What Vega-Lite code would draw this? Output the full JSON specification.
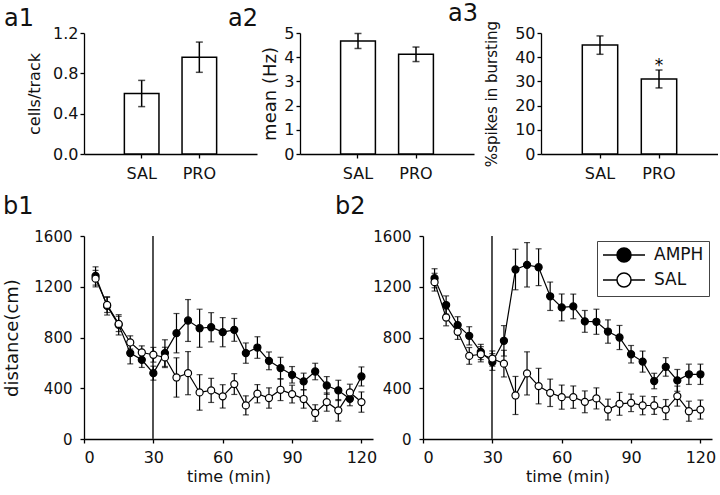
{
  "$schema": "https://vega.github.io/schema/vega-lite/v6.json",
  "padding": {"left": 3, "top": 2, "right": 0, "bottom": 0},
  "spacing": 14,
  "config": {
    "font": "DejaVu Sans",
    "view": {"stroke": null},
    "axis": {"domainColor": "black", "domainWidth": 1.3, "tickColor": "black", "tickWidth": 1.3, "tickSize": 4, "labelFontSize": 15, "labelColor": "#111", "titleFontSize": 15, "titleFontWeight": "normal", "titleColor": "#111", "grid": false, "labelOverlap": false},
    "title": {"fontSize": 24, "fontWeight": "normal", "color": "#111", "anchor": "start", "frame": "group", "baseline": "alphabetic"}
  },
  "datasets": {
    "a1": [{"group": "SAL", "mean": 0.60, "sem": 0.13}, {"group": "PRO", "mean": 0.96, "sem": 0.15}],
    "a2": [{"group": "SAL", "mean": 4.67, "sem": 0.31}, {"group": "PRO", "mean": 4.12, "sem": 0.30}],
    "a3": [{"group": "SAL", "mean": 45.0, "sem": 3.8}, {"group": "PRO", "mean": 31.0, "sem": 3.7, "sig": "*"}],
    "b1": [
      {"treat": "AMPH", "time": 5, "dist": 1285, "sem": 72}, {"treat": "AMPH", "time": 10, "dist": 1049, "sem": 72}, {"treat": "AMPH", "time": 15, "dist": 900, "sem": 80}, {"treat": "AMPH", "time": 20, "dist": 677, "sem": 85}, {"treat": "AMPH", "time": 25, "dist": 624, "sem": 60}, {"treat": "AMPH", "time": 30, "dist": 519, "sem": 55}, {"treat": "AMPH", "time": 35, "dist": 677, "sem": 105}, {"treat": "AMPH", "time": 40, "dist": 834, "sem": 155}, {"treat": "AMPH", "time": 45, "dist": 934, "sem": 165}, {"treat": "AMPH", "time": 50, "dist": 873, "sem": 150}, {"treat": "AMPH", "time": 55, "dist": 881, "sem": 115}, {"treat": "AMPH", "time": 60, "dist": 842, "sem": 115}, {"treat": "AMPH", "time": 65, "dist": 860, "sem": 90}, {"treat": "AMPH", "time": 70, "dist": 677, "sem": 80}, {"treat": "AMPH", "time": 75, "dist": 721, "sem": 85}, {"treat": "AMPH", "time": 80, "dist": 616, "sem": 70}, {"treat": "AMPH", "time": 85, "dist": 559, "sem": 85}, {"treat": "AMPH", "time": 90, "dist": 506, "sem": 65}, {"treat": "AMPH", "time": 95, "dist": 454, "sem": 65}, {"treat": "AMPH", "time": 100, "dist": 532, "sem": 65}, {"treat": "AMPH", "time": 105, "dist": 422, "sem": 70}, {"treat": "AMPH", "time": 110, "dist": 383, "sem": 80}, {"treat": "AMPH", "time": 115, "dist": 317, "sem": 55}, {"treat": "AMPH", "time": 120, "dist": 493, "sem": 75},
      {"treat": "SAL", "time": 5, "dist": 1264, "sem": 65}, {"treat": "SAL", "time": 10, "dist": 1057, "sem": 60}, {"treat": "SAL", "time": 15, "dist": 907, "sem": 60}, {"treat": "SAL", "time": 20, "dist": 761, "sem": 52}, {"treat": "SAL", "time": 25, "dist": 682, "sem": 52}, {"treat": "SAL", "time": 30, "dist": 664, "sem": 58}, {"treat": "SAL", "time": 35, "dist": 643, "sem": 80}, {"treat": "SAL", "time": 40, "dist": 485, "sem": 155}, {"treat": "SAL", "time": 45, "dist": 519, "sem": 170}, {"treat": "SAL", "time": 50, "dist": 367, "sem": 140}, {"treat": "SAL", "time": 55, "dist": 383, "sem": 95}, {"treat": "SAL", "time": 60, "dist": 336, "sem": 92}, {"treat": "SAL", "time": 65, "dist": 433, "sem": 82}, {"treat": "SAL", "time": 70, "dist": 265, "sem": 75}, {"treat": "SAL", "time": 75, "dist": 357, "sem": 72}, {"treat": "SAL", "time": 80, "dist": 323, "sem": 80}, {"treat": "SAL", "time": 85, "dist": 388, "sem": 85}, {"treat": "SAL", "time": 90, "dist": 354, "sem": 70}, {"treat": "SAL", "time": 95, "dist": 315, "sem": 72}, {"treat": "SAL", "time": 100, "dist": 205, "sem": 65}, {"treat": "SAL", "time": 105, "dist": 291, "sem": 72}, {"treat": "SAL", "time": 110, "dist": 226, "sem": 85}, {"treat": "SAL", "time": 115, "dist": 367, "sem": 65}, {"treat": "SAL", "time": 120, "dist": 291, "sem": 80}
    ],
    "b2": [
      {"treat": "AMPH", "time": 5, "dist": 1267, "sem": 75}, {"treat": "AMPH", "time": 10, "dist": 1056, "sem": 72}, {"treat": "AMPH", "time": 15, "dist": 898, "sem": 66}, {"treat": "AMPH", "time": 20, "dist": 813, "sem": 72}, {"treat": "AMPH", "time": 25, "dist": 686, "sem": 60}, {"treat": "AMPH", "time": 30, "dist": 607, "sem": 66}, {"treat": "AMPH", "time": 35, "dist": 774, "sem": 120}, {"treat": "AMPH", "time": 40, "dist": 1336, "sem": 160}, {"treat": "AMPH", "time": 45, "dist": 1373, "sem": 175}, {"treat": "AMPH", "time": 50, "dist": 1354, "sem": 145}, {"treat": "AMPH", "time": 55, "dist": 1125, "sem": 112}, {"treat": "AMPH", "time": 60, "dist": 1037, "sem": 106}, {"treat": "AMPH", "time": 65, "dist": 1045, "sem": 97}, {"treat": "AMPH", "time": 70, "dist": 927, "sem": 86}, {"treat": "AMPH", "time": 75, "dist": 924, "sem": 99}, {"treat": "AMPH", "time": 80, "dist": 847, "sem": 92}, {"treat": "AMPH", "time": 85, "dist": 800, "sem": 95}, {"treat": "AMPH", "time": 90, "dist": 668, "sem": 69}, {"treat": "AMPH", "time": 95, "dist": 610, "sem": 83}, {"treat": "AMPH", "time": 100, "dist": 457, "sem": 61}, {"treat": "AMPH", "time": 105, "dist": 568, "sem": 73}, {"treat": "AMPH", "time": 110, "dist": 462, "sem": 86}, {"treat": "AMPH", "time": 115, "dist": 510, "sem": 80}, {"treat": "AMPH", "time": 120, "dist": 510, "sem": 80},
      {"treat": "SAL", "time": 5, "dist": 1236, "sem": 70}, {"treat": "SAL", "time": 10, "dist": 958, "sem": 66}, {"treat": "SAL", "time": 15, "dist": 845, "sem": 60}, {"treat": "SAL", "time": 20, "dist": 655, "sem": 66}, {"treat": "SAL", "time": 25, "dist": 668, "sem": 60}, {"treat": "SAL", "time": 30, "dist": 634, "sem": 60}, {"treat": "SAL", "time": 35, "dist": 594, "sem": 105}, {"treat": "SAL", "time": 40, "dist": 343, "sem": 150}, {"treat": "SAL", "time": 45, "dist": 517, "sem": 170}, {"treat": "SAL", "time": 50, "dist": 417, "sem": 140}, {"treat": "SAL", "time": 55, "dist": 364, "sem": 108}, {"treat": "SAL", "time": 60, "dist": 330, "sem": 95}, {"treat": "SAL", "time": 65, "dist": 330, "sem": 88}, {"treat": "SAL", "time": 70, "dist": 293, "sem": 86}, {"treat": "SAL", "time": 75, "dist": 320, "sem": 83}, {"treat": "SAL", "time": 80, "dist": 232, "sem": 82}, {"treat": "SAL", "time": 85, "dist": 277, "sem": 90}, {"treat": "SAL", "time": 90, "dist": 285, "sem": 69}, {"treat": "SAL", "time": 95, "dist": 264, "sem": 73}, {"treat": "SAL", "time": 100, "dist": 264, "sem": 70}, {"treat": "SAL", "time": 105, "dist": 232, "sem": 79}, {"treat": "SAL", "time": 110, "dist": 338, "sem": 79}, {"treat": "SAL", "time": 115, "dist": 219, "sem": 79}, {"treat": "SAL", "time": 120, "dist": 232, "sem": 75}
    ]
  },
  "vconcat": [
    {
      "bounds": "flush",
      "spacing": 10,
      "hconcat": [
        {
          "width": 173, "height": 121,
          "title": {"text": "a1", "dx": -80, "dy": 6, "offset": 0},
          "data": {"name": "a1"},
          "layer": [
            {"mark": {"type": "bar", "fill": "white", "stroke": "black", "strokeWidth": 1.5},
             "encoding": {
               "x": {"field": "group", "type": "nominal", "sort": ["SAL", "PRO"], "scale": {"paddingInner": 0.4, "paddingOuter": 0.7}, "axis": {"title": null, "labelAngle": 0, "labelPadding": 7, "labelFontSize": 16}},
               "y": {"field": "mean", "type": "quantitative", "scale": {"domain": [0, 1.2], "nice": false}, "axis": {"values": [0, 0.4, 0.8, 1.2], "format": ".1f", "title": "cells/track", "labelPadding": 2, "titlePadding": 10, "titleFontSize": 16, "labelFontSize": 16, "labelOverlap": false}}
             }},
            {"mark": {"type": "errorbar", "ticks": {"size": 7}, "color": "black", "thickness": 1.5},
             "encoding": {
               "x": {"field": "group", "type": "nominal", "sort": ["SAL", "PRO"]},
               "y": {"field": "mean", "type": "quantitative", "title": "cells/track"},
               "yError": {"field": "sem"}
             }}
          ]
        },
        {"width": 23, "height": 1, "data": {"values": []}, "mark": "point"},
        {
          "width": 174, "height": 121,
          "title": {"text": "a2", "dx": -72, "dy": 6, "offset": 0},
          "data": {"name": "a2"},
          "layer": [
            {"mark": {"type": "bar", "fill": "white", "stroke": "black", "strokeWidth": 1.5},
             "encoding": {
               "x": {"field": "group", "type": "nominal", "sort": ["SAL", "PRO"], "scale": {"paddingInner": 0.4, "paddingOuter": 0.7}, "axis": {"title": null, "labelAngle": 0, "labelPadding": 7, "labelFontSize": 16}},
               "y": {"field": "mean", "type": "quantitative", "scale": {"domain": [0, 5], "nice": false}, "axis": {"values": [0, 1, 2, 3, 4, 5], "format": "d", "title": "mean (Hz)", "labelPadding": 2, "titlePadding": 4, "titleFontSize": 18, "labelFontSize": 16, "labelOverlap": false, "labelBound": false}}
             }},
            {"mark": {"type": "errorbar", "ticks": {"size": 7}, "color": "black", "thickness": 1.5},
             "encoding": {
               "x": {"field": "group", "type": "nominal", "sort": ["SAL", "PRO"]},
               "y": {"field": "mean", "type": "quantitative", "title": "mean (Hz)", "axis": {"values": [0, 1, 2, 3, 4, 5], "labelOverlap": false}},
               "yError": {"field": "sem"}
             }}
          ]
        },
        {"width": 47, "height": 1, "data": {"values": []}, "mark": "point"},
        {
          "width": 177, "height": 121,
          "title": {"text": "a3", "dx": -93, "dy": 6, "offset": 0},
          "data": {"name": "a3"},
          "layer": [
            {"mark": {"type": "bar", "fill": "white", "stroke": "black", "strokeWidth": 1.5},
             "encoding": {
               "x": {"field": "group", "type": "nominal", "sort": ["SAL", "PRO"], "scale": {"paddingInner": 0.4, "paddingOuter": 0.7}, "axis": {"title": null, "labelAngle": 0, "labelPadding": 7, "labelFontSize": 16}},
               "y": {"field": "mean", "type": "quantitative", "scale": {"domain": [0, 50], "nice": false}, "axis": {"values": [0, 10, 20, 30, 40, 50], "format": "d", "title": "%spikes in bursting", "labelPadding": 2, "titlePadding": 15, "titleFontSize": 15, "labelFontSize": 16, "labelOverlap": false, "labelBound": false}}
             }},
            {"mark": {"type": "errorbar", "ticks": {"size": 7}, "color": "black", "thickness": 1.5},
             "encoding": {
               "x": {"field": "group", "type": "nominal", "sort": ["SAL", "PRO"]},
               "y": {"field": "mean", "type": "quantitative", "title": "%spikes in bursting", "axis": {"values": [0, 10, 20, 30, 40, 50], "labelOverlap": false}},
               "yError": {"field": "sem"}
             }},
            {"transform": [{"filter": "datum.sig"}],
             "mark": {"type": "text", "fontSize": 17, "baseline": "alphabetic", "dy": -8, "color": "black"},
             "encoding": {
               "x": {"field": "group", "type": "nominal", "sort": ["SAL", "PRO"]},
               "y": {"field": "mean", "type": "quantitative", "title": "%spikes in bursting", "axis": {"values": [0, 10, 20, 30, 40, 50], "labelOverlap": false}},
               "text": {"field": "sig"}
             }}
          ]
        }
      ]
    },
    {
      "bounds": "flush",
      "spacing": 50,
      "resolve": {"scale": {"fill": "independent"}, "legend": {"fill": "independent"}},
      "hconcat": [
        {
          "width": 289, "height": 203,
          "title": {"text": "b1", "dx": -81, "offset": 10},
          "data": {"name": "b1"},
          "encoding": {
            "x": {"field": "time", "type": "quantitative", "scale": {"domain": [0, 125], "nice": false}, "axis": {"values": [0, 30, 60, 90, 120], "title": "time (min)", "labelPadding": 6, "titlePadding": 3, "labelFontSize": 16, "titleFontSize": 16}},
            "y": {"field": "dist", "type": "quantitative", "scale": {"domain": [0, 1600], "nice": false}, "axis": {"values": [0, 400, 800, 1200, 1600], "format": "d", "title": "distance(cm)", "labelPadding": 8, "titlePadding": 12, "titleFontSize": 18}}
          },
          "layer": [
            {"mark": {"type": "rule", "color": "#555", "strokeWidth": 1}, "encoding": {"x": {"datum": 30}, "y": null}},
            {"mark": {"type": "errorbar", "ticks": {"size": 6}, "color": "black", "thickness": 1.2},
             "encoding": {"yError": {"field": "sem"}, "detail": {"field": "treat"}}},
            {"mark": {"type": "line", "color": "black", "strokeWidth": 1.2}, "encoding": {"detail": {"field": "treat"}}},
            {"mark": {"type": "point", "shape": "circle", "size": 50, "stroke": "black", "strokeWidth": 1.2, "filled": true, "opacity": 1},
             "encoding": {"fill": {"field": "treat", "type": "nominal", "scale": {"domain": ["AMPH", "SAL"], "range": ["black", "white"]}, "legend": null}}},
            {"data": {"values": [{"label": "SAL"}]},
             "mark": {"type": "text", "fontSize": 17, "color": "#111", "baseline": "middle"},
             "encoding": {"x": {"datum": 53}, "y": {"datum": 1545}, "text": {"field": "label"}}}
          ]
        },
        {
          "width": 289, "height": 203,
          "title": {"text": "b2", "dx": -88, "offset": 10},
          "data": {"name": "b2"},
          "encoding": {
            "x": {"field": "time", "type": "quantitative", "scale": {"domain": [0, 125], "nice": false}, "axis": {"values": [0, 30, 60, 90, 120], "title": "time (min)", "labelPadding": 6, "titlePadding": 3, "labelFontSize": 16, "titleFontSize": 16}},
            "y": {"field": "dist", "type": "quantitative", "scale": {"domain": [0, 1600], "nice": false}, "axis": {"values": [0, 400, 800, 1200, 1600], "format": "d", "title": null, "labelPadding": 8}}
          },
          "layer": [
            {"mark": {"type": "rule", "color": "#555", "strokeWidth": 1}, "encoding": {"x": {"datum": 30}, "y": null}},
            {"mark": {"type": "errorbar", "ticks": {"size": 6}, "color": "black", "thickness": 1.2},
             "encoding": {"yError": {"field": "sem"}, "detail": {"field": "treat"}}},
            {"mark": {"type": "line", "color": "black", "strokeWidth": 1.2}, "encoding": {"detail": {"field": "treat"}}},
            {"mark": {"type": "point", "shape": "circle", "size": 50, "stroke": "black", "strokeWidth": 1.2, "filled": true, "opacity": 1},
             "encoding": {"fill": {"field": "treat", "type": "nominal", "scale": {"domain": ["AMPH", "SAL"], "range": ["black", "white"]},
               "legend": {"title": null, "orient": "none", "legendX": 174, "legendY": 5, "symbolType": "M-1,0L0.75,0M2.5,0L4.25,0M0.75,0A0.875,0.875,0,1,1,2.5,0A0.875,0.875,0,1,1,0.75,0Z", "symbolSize": 256, "symbolStrokeColor": "black", "symbolStrokeWidth": 1.5, "labelFontSize": 17, "labelColor": "#111", "strokeColor": "#444", "fillColor": "white", "padding": 5, "rowPadding": 3, "labelOffset": 34}}}},
            {"data": {"values": [{"label": "PRO"}]},
             "mark": {"type": "text", "fontSize": 17, "color": "#111", "baseline": "middle"},
             "encoding": {"x": {"datum": 63.6}, "y": {"datum": 1568}, "text": {"field": "label"}}}
          ]
        }
      ]
    }
  ]
}
